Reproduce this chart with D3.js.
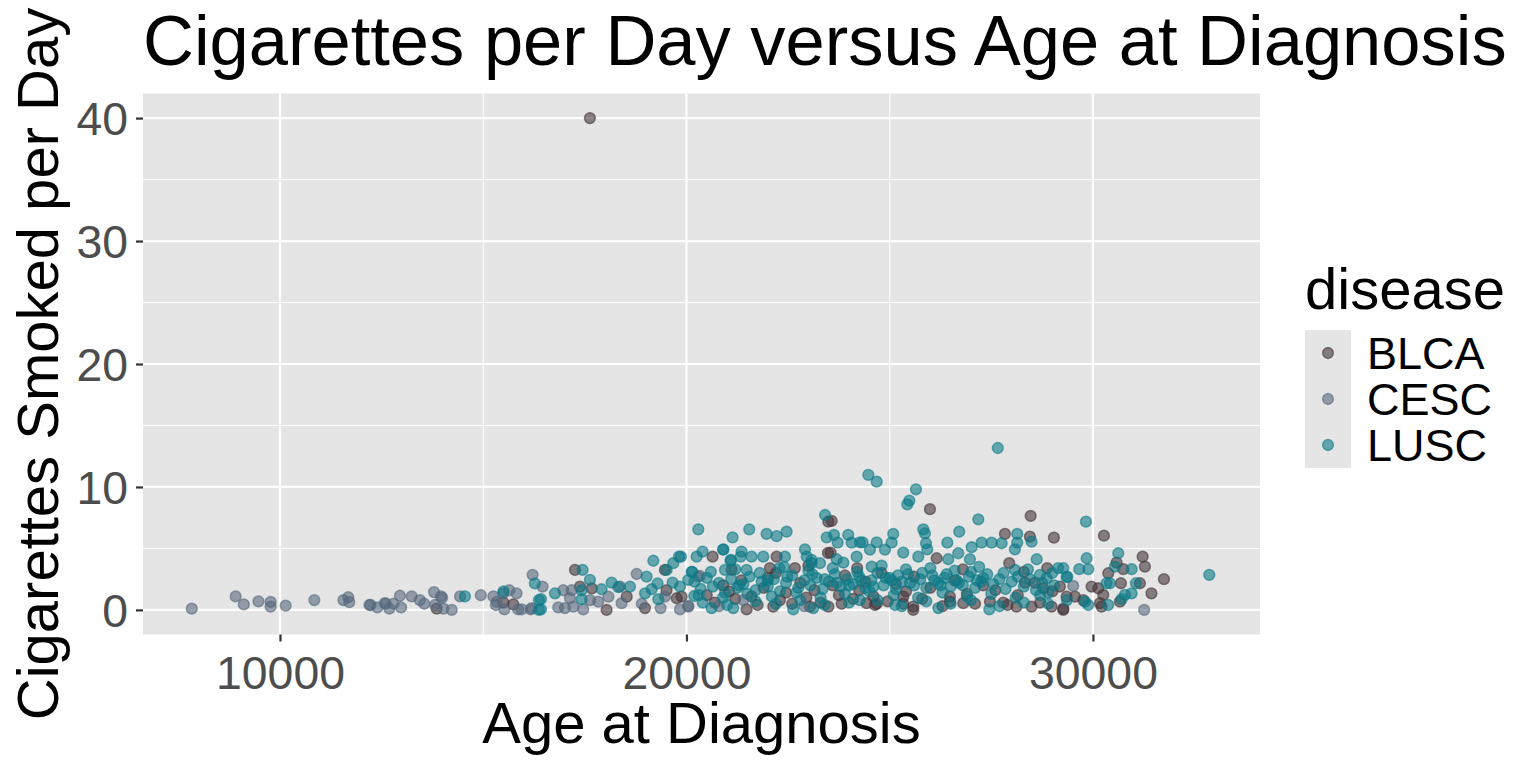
<!DOCTYPE html>
<html>
<head>
<meta charset="utf-8">
<script src="https://cdn.jsdelivr.net/npm/d3@7"></script>
<style>
  html, body { margin: 0; padding: 0; background: #ffffff; }
  svg { display: block; font-family: "Liberation Sans", Arial, sans-serif; }
</style>
</head>
<body>
<svg id="chart" width="1536" height="768"></svg>
<script>
// ---------------- DATA ----------------
const diseases = ["BLCA", "CESC", "LUSC"];
const xTicks = [10000, 20000, 30000];
const xMinorTicks = [15000, 25000];
const yTicks = [0, 10, 20, 30, 40];
const yMinorTicks = [5, 15, 25, 35];

// [age at diagnosis (days), cigarettes per day]
const blcaPoints = [
  [13855,0.1],[15495,0.6],[15740,0.45],[17625,40],[17257,3.25],[17380,1.9],[17670,1.75],[18036,0],
  [18530,1.08],[18980,0.15],[19470,3.25],[19510,1.6],[19760,0.95],[19880,1.08],[20643,4.33],
  [23490,7.18],[23480,4.63],[23572,7.24],[22218,4.33],[23546,4.66],[21111,3.25],[22054,3.4],
  [22669,3.4],[21480,0.05],[22135,0.27],[23038,0.27],[23491,0.27],[23818,0.5],[24432,0.55],
  [24680,0.5],[25990,8.19],[28467,7.64],[29040,5.88],[27835,6.18],[28450,5.96],[26155,4.2],
  [28875,3.4],[27941,3.8],[28327,2.22],[28573,2.22],[28778,1.76],[25334,0.5],[25580,0.27],
  [25580,0],[26482,0.67],[26810,0.55],[27466,0.67],[27795,0.6],[28120,0.27],[28490,0.27],
  [28983,0.27],[29270,0],[24637,0.4],[25334,1.08],[26482,1.08],[30271,6.04],[31222,4.33],
  [31279,3.52],[30582,3.85],[30746,3.31],[30377,2.98],[30689,2.17],[31156,2.17],[31747,2.5],
  [31439,1.35],[30664,0.67],[29967,1.9],[30131,1.76],[30254,1.22],[30172,0.55],[30213,0.27],
  [29557,1.08],[29762,0.8],[29270,0.1],[29188,1.9],[29352,1.08],
  [20500,1.2],[20700,0.6],[20900,2.0],[21050,1.5],[21200,0.9],[21350,2.4],[21600,1.1],
  [21750,0.4],[21900,1.8],[22000,2.6],[22300,0.8],[22450,1.4],[22600,0.5],[22800,2.2],
  [22950,1.0],[23150,1.6],[23300,0.6],[23600,2.0],[23750,1.2],[23900,2.8],[24100,0.9],
  [24250,1.6],[24400,2.3],[24600,1.1],[24800,3.0],[24950,0.7],[25150,2.1],[25400,1.5],
  [25600,2.7],[25800,0.9],[26000,1.8],[26300,0.3],[26600,2.4],[26900,1.3],[27100,0.5],
  [27300,2.0],[27600,1.6],[27900,0.4],[28150,1.2],[28300,3.1],[28700,0.6],[29000,1.5],
  [26800,3.3],[24200,3.4],[22200,3.0],[23000,3.6]
];

const cescPoints = [
  [7830,0.1],[8910,1.1],[9110,0.45],[9470,0.7],[9770,0.65],[9770,0.27],[10140,0.35],[10845,0.8],
  [11560,0.8],[11680,1.03],[11705,0.63],[12200,0.4],[12230,0.4],[12395,0.2],[12580,0.55],
  [12600,0.5],[12690,0.1],[12790,0.5],[12950,1.15],[12980,0.2],[13240,1.1],[13440,0.8],
  [13550,0.5],[13790,1.45],[13815,0.4],[13960,1.1],[13990,1.0],[14020,0.1],[14225,0],
  [14430,1.1],[14940,1.2],[15250,1.1],[15310,0.4],[15330,0.65],[15490,1.35],[15520,0.05],
  [15640,1.6],[15820,1.35],[15860,0.05],[15945,0.05],[16170,0.05],[16215,2.85],[16190,0.15],
  [16460,1.9],[16970,1.6],[17175,1.6],[16845,0.2],[17010,0.15],[17215,0.27],[17460,0.05],
  [17135,0.95],[17630,0.8],[17830,0.67],[18080,1.08],[18365,1.9],[18405,0.55],[18775,2.92],
  [18900,0.5],[19365,0.15],[19470,1.08],[19840,0.05],[20045,0.32],[20330,2.77],[20290,2.7],
  [20045,0.27],[20800,0.3],[21400,0.8],[22900,0.3],[29515,1.95],[31260,0]
];

const luscPoints = [
  [14550,1.1],[15500,1.5],[16270,2.15],[16370,0.8],[16370,0],[16420,0.87],[16420,0.05],[16765,1.35],
  [17445,3.25],[17625,2.45],[17420,1.6],[17420,0.87],[17913,1.68],[18160,2.22],[18324,1.85],
  [18610,1.9],[19020,2.7],[19185,4.0],[18980,1.35],[19143,1.68],[19307,0.87],[19290,2.15],
  [19512,3.25],[19676,3.8],[19815,4.33],[19659,2.22],[19840,1.9],[20045,2.45],[20143,3.1],
  [20192,1.13],[20291,6.55],[20250,4.33],[20397,4.74],[20617,0.15],[20905,4.9],[21135,5.9],
  [21085,4.0],[21356,4.74],[21545,6.55],[21972,6.18],[22218,6.0],[22464,6.37],[22915,4.93],
  [23079,4.07],[23410,7.72],[23450,5.9],[24474,10.98],[24680,10.43],[23630,6.1],[23720,5.47],
  [23980,6.1],[24064,5.47],[24266,5.5],[24334,5.5],[24680,5.5],[20905,4.93],[19864,4.33],
  [21094,4.07],[21333,4.33],[21603,4.33],[21890,4.33],[22423,4.33],[22958,4.33],[23079,3.8],
  [23284,3.8],[23695,4.12],[23860,3.85],[24187,4.33],[24514,4.9],[24557,3.52],[20127,3.1],
  [20947,3.25],[21480,3.25],[22284,3.4],[22480,2.7],[21151,0.15],[22627,0.05],[23120,0.15],
  [24266,0.8],[25646,9.81],[25483,8.89],[25433,8.59],[27180,7.37],[28137,6.18],[28490,5.55],
  [28137,5.47],[28080,4.93],[25826,6.55],[25867,6.23],[25893,5.42],[25924,4.93],[26710,6.37],
  [26417,5.47],[25087,6.18],[25047,5.47],[24883,4.9],[27016,5.1],[27262,5.47],[27508,5.47],
  [27754,5.42],[25334,4.66],[25703,4.33],[26687,4.61],[26441,4.12],[26974,4.12],[28616,4.12],
  [29146,3.4],[29352,2.66],[28080,3.25],[28697,2.85],[28862,2.58],[25130,0.4],[26195,0.15],
  [27450,0.05],[27660,13.17],[29828,7.18],[30623,4.61],[29845,4.2],[29663,3.31],[29885,3.31],
  [29270,3.4],[29368,2.7],[30541,3.52],[30951,3.31],[30336,2.17],[30418,2.17],[31058,2.17],
  [32862,2.85],[30787,1.22],[30951,1.35],[30705,0.87],[30377,0.4],[29803,0.67],[29885,0.4],
  [29360,0.8],
  [20200,2.3],[20350,1.7],[20500,2.6],[20650,1.9],[20800,2.2],[20950,1.4],[21100,2.5],[21250,1.8],
  [21400,2.1],[21550,2.7],[21700,1.6],[21850,2.3],[22000,1.9],[22150,2.5],[22300,1.5],[22450,2.2],
  [22600,2.8],[22750,1.8],[22900,2.4],[23050,2.0],[23200,2.6],[23350,1.7],[23500,2.3],[23650,2.9],
  [23800,1.9],[23950,2.5],[24100,2.1],[24250,2.7],[24400,1.8],[24550,2.4],[24700,3.0],[24850,2.0],
  [25000,2.6],[25150,1.7],[25300,2.3],[25450,2.9],[25600,2.0],[25750,2.5],[25900,1.8],[26050,2.8],
  [26200,2.2],[26350,2.6],[26500,1.9],[26650,2.4],[26800,2.0],[26950,2.7],[27100,1.8],[27250,2.3],
  [27400,2.9],[27550,2.1],[27700,2.5],[27850,1.7],[28000,2.3],[28150,2.7],[28300,1.9],[28450,2.5],
  [28600,1.6],[28750,2.2],[28900,1.4],[29050,2.0],
  [20300,1.2],[20600,3.1],[20900,1.0],[21200,3.3],[21500,1.3],[21800,3.0],[22100,1.1],[22400,3.5],
  [22700,1.4],[23000,3.2],[23300,1.0],[23600,3.4],[23900,1.3],[24200,3.1],[24500,1.5],[24800,3.6],
  [25100,1.2],[25400,3.3],[25700,1.0],[26000,3.4],[26300,1.4],[26600,3.2],[26900,1.1],[27200,3.5],
  [27500,1.3],[27800,3.0],[28100,1.0],[28400,3.3],[28700,1.2],[29000,3.0],
  [20400,0.6],[21000,0.4],[21700,0.7],[22200,0.5],[22800,0.8],[23400,0.4],[24000,0.6],[24700,0.8],
  [25300,0.3],[25900,0.7],[26500,0.5],[27000,0.8],[27700,0.3],[28300,0.6],[28900,0.5],
  [23100,2.9],[23700,2.2],[24300,2.4],[24600,1.9],[24900,2.6],[25200,2.8],[25500,2.2],[25800,3.0],
  [26100,2.4],[26400,2.9],[26700,2.2],[27000,3.1],[27300,2.6],[23400,2.5],[24000,2.0],[25050,2.4],
  [26250,2.0],[27150,2.4],[22000,2.4],[21300,2.0]
];

const seriesPoints = { BLCA: blcaPoints, CESC: cescPoints, LUSC: luscPoints };
const diseaseColors = ["#45363a", "#57697d", "#0c7a87"];

// ---------------- LAYOUT ----------------
const svg = d3.select("#chart");
const W = 1536, H = 768;
const panel = { left: 143, right: 1260, top: 93.5, bottom: 634.5 };
const font = "'Liberation Sans', Arial, sans-serif";

svg.append("rect").attr("width", W).attr("height", H).attr("fill", "#ffffff");

const x = d3.scaleLinear().domain([6630, 34110]).range([panel.left, panel.right]);
const y = d3.scaleLinear().domain([-2, 42]).range([panel.bottom, panel.top]);
const color = d3.scaleOrdinal().domain(diseases).range(diseaseColors);

// panel background
svg.append("rect")
  .attr("x", panel.left).attr("y", panel.top)
  .attr("width", panel.right - panel.left).attr("height", panel.bottom - panel.top)
  .attr("fill", "#e5e5e5");

const grid = svg.append("g");
grid.selectAll(".xminor").data(xMinorTicks).enter().append("line")
  .attr("x1", d => x(d)).attr("x2", d => x(d))
  .attr("y1", panel.top).attr("y2", panel.bottom)
  .attr("stroke", "#ffffff").attr("stroke-width", 1.1);
grid.selectAll(".yminor").data(yMinorTicks).enter().append("line")
  .attr("y1", d => y(d)).attr("y2", d => y(d))
  .attr("x1", panel.left).attr("x2", panel.right)
  .attr("stroke", "#ffffff").attr("stroke-width", 1.1);
grid.selectAll(".xmajor").data(xTicks).enter().append("line")
  .attr("x1", d => x(d)).attr("x2", d => x(d))
  .attr("y1", panel.top).attr("y2", panel.bottom)
  .attr("stroke", "#ffffff").attr("stroke-width", 2.2);
grid.selectAll(".ymajor").data(yTicks).enter().append("line")
  .attr("y1", d => y(d)).attr("y2", d => y(d))
  .attr("x1", panel.left).attr("x2", panel.right)
  .attr("stroke", "#ffffff").attr("stroke-width", 2.2);

// points (ggplot shape 19 with alpha: fill + same-colour stroke)
const ptAlpha = 0.6;
const ptR = 5.4;
const pts = svg.append("g");
diseases.forEach(dz => {
  pts.selectAll(null).data(seriesPoints[dz]).enter().append("circle")
    .attr("cx", d => x(d[0])).attr("cy", d => y(d[1]))
    .attr("r", ptR)
    .attr("fill", color(dz)).attr("fill-opacity", ptAlpha)
    .attr("stroke", color(dz)).attr("stroke-opacity", ptAlpha)
    .attr("stroke-width", 1.5);
});

// axes
const xAxis = d3.axisBottom(x).tickValues(xTicks).tickSize(7).tickPadding(10).tickFormat(d3.format("d"));
const gx = svg.append("g").attr("transform", `translate(0,${panel.bottom})`).call(xAxis);
gx.select(".domain").remove();
gx.selectAll(".tick line").attr("stroke", "#333333").attr("stroke-width", 2.2);
gx.selectAll(".tick text").attr("fill", "#4d4d4d").attr("font-size", 46.4).attr("font-family", font)
  .attr("y", 54).attr("dy", 0);

const yAxis = d3.axisLeft(y).tickValues(yTicks).tickSize(7).tickPadding(8);
const gy = svg.append("g").attr("transform", `translate(${panel.left},0)`).call(yAxis);
gy.select(".domain").remove();
gy.selectAll(".tick line").attr("stroke", "#333333").attr("stroke-width", 2.2);
gy.selectAll(".tick text").attr("fill", "#4d4d4d").attr("font-size", 46.4).attr("font-family", font)
  .attr("x", -15).attr("dy", "0.36em");

// titles
svg.append("text").attr("x", panel.left).attr("y", 65)
  .attr("font-size", 70.5).attr("font-family", font).attr("fill", "#000")
  .text("Cigarettes per Day versus Age at Diagnosis");

svg.append("text").attr("x", (panel.left + panel.right) / 2).attr("y", 743)
  .attr("text-anchor", "middle").attr("font-size", 58).attr("font-family", font).attr("fill", "#000")
  .text("Age at Diagnosis");

svg.append("text")
  .attr("transform", `translate(58,${(panel.top + panel.bottom) / 2}) rotate(-90)`)
  .attr("text-anchor", "middle").attr("font-size", 58).attr("font-family", font).attr("fill", "#000")
  .text("Cigarettes Smoked per Day");

// legend
const lg = svg.append("g");
const keyX = 1305, keyY = 330, keySize = 46;
lg.append("text").attr("x", keyX).attr("y", 309)
  .attr("font-size", 58).attr("font-family", font).attr("fill", "#000").text("disease");
diseases.forEach((dz, i) => {
  lg.append("rect").attr("x", keyX).attr("y", keyY + i * keySize)
    .attr("width", keySize).attr("height", keySize).attr("fill", "#e5e5e5");
});
diseases.forEach((dz, i) => {
  const cy = keyY + i * keySize + keySize / 2;
  lg.append("circle").attr("cx", keyX + keySize / 2).attr("cy", cy).attr("r", ptR)
    .attr("fill", color(dz)).attr("fill-opacity", ptAlpha)
    .attr("stroke", color(dz)).attr("stroke-opacity", ptAlpha).attr("stroke-width", 1.5);
  lg.append("text").attr("x", 1367).attr("y", cy).attr("dy", "0.36em")
    .attr("font-size", 45).attr("font-family", font).attr("fill", "#000").text(dz);
});
</script>
</body>
</html>
